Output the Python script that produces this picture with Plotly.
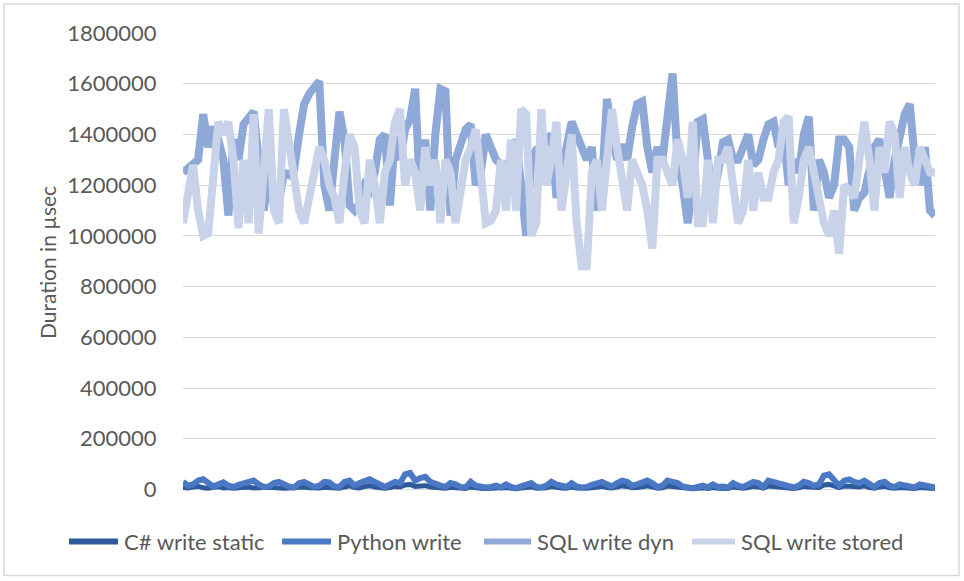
import plotly.graph_objects as go

# ---- data (values in µsec) ----
sql_dyn_k = [
    1250,1270,1280,1300,1480,1350,1430,1380,1300,1080,
    1380,1300,1440,1470,1490,1300,1100,1250,1120,1130,
    1250,1240,1260,1400,1520,1560,1580,1610,1200,1100,
    1300,1490,1380,1120,1100,1130,1200,1180,1250,1380,
    1400,1120,1390,1300,1420,1460,1580,1150,1380,1100,
    1400,1580,1570,1080,1300,1350,1420,1440,1200,1250,
    1400,1350,1300,1280,1280,1300,1380,1200,1000,1300,
    1340,1350,1380,1400,1150,1250,1380,1450,1400,1350,
    1300,1350,1100,1200,1540,1400,1300,1360,1300,1430,
    1520,1530,1350,1250,1350,1300,1450,1640,1300,1200,
    1050,1200,1450,1460,1300,1150,1250,1370,1380,1300,
    1300,1350,1400,1280,1300,1380,1440,1450,1350,1400,
    1200,1300,1250,1400,1470,1100,1300,1250,1150,1200,
    1380,1380,1350,1100,1150,1170,1250,1350,1380,1250,
    1150,1300,1400,1480,1520,1300,1200,1350,1100,1080,
]
sql_stored_k = [
    1050,1150,1280,1100,1000,1010,1250,1450,1400,1450,
    1300,1030,1300,1050,1480,1010,1250,1500,1100,1050,
    1500,1350,1200,1100,1050,1150,1250,1350,1300,1200,
    1150,1050,1250,1400,1350,1100,1050,1300,1200,1050,
    1250,1300,1450,1500,1200,1300,1250,1100,1350,1200,
    1300,1050,1300,1250,1050,1200,1300,1350,1420,1250,
    1050,1060,1100,1300,1100,1380,1100,1500,1480,1000,
    1050,1500,1200,1300,1450,1100,1250,1400,1050,880,
    880,1250,1300,1100,1300,1500,1350,1200,1100,1300,
    1250,1200,1100,950,1300,1300,1250,1200,1380,1300,
    1150,1450,1050,1050,1300,1050,1300,1300,1350,1200,
    1050,1100,1300,1100,1250,1150,1150,1250,1300,1450,
    1470,1050,1150,1300,1350,1250,1150,1050,1000,1100,
    930,1200,1180,1150,1300,1450,1300,1100,1350,1250,
    1450,1400,1150,1350,1250,1200,1350,1300,1250,1250,
]
python_k = [
    30,15,20,35,40,25,12,20,28,15,
    10,18,25,30,35,20,10,12,25,30,
    20,12,8,25,30,22,10,15,30,28,
    12,10,30,35,15,25,35,40,30,20,
    10,20,30,25,60,65,35,45,50,30,
    20,15,10,25,20,10,8,30,15,10,
    8,10,15,8,20,10,5,12,20,25,
    10,8,15,30,20,15,10,25,12,8,
    10,18,25,30,20,12,25,35,30,15,
    20,30,35,25,10,15,35,30,25,12,
    8,5,10,15,8,20,10,12,8,25,
    15,10,20,30,25,10,35,30,20,15,
    10,8,15,30,25,15,20,55,60,40,
    15,35,40,30,25,35,20,10,25,30,
    15,10,20,15,10,8,20,18,12,8,
]
csharp_k = [
    8,6,10,12,7,5,9,11,6,8,
    5,7,12,10,6,5,8,9,7,6,
    5,6,8,12,10,7,5,6,9,8,
    6,5,10,14,8,6,12,15,10,7,
    5,8,12,10,18,20,12,14,15,10,
    7,6,5,9,8,5,4,10,6,5,
    4,5,7,4,8,5,3,6,8,10,
    5,4,7,12,8,6,5,10,6,4,
    5,7,10,12,8,6,10,14,12,7,
    8,12,14,10,5,7,14,12,10,6,
    4,3,5,7,4,8,5,6,4,10,
    7,5,8,12,10,5,14,12,8,7,
    5,4,7,12,10,7,8,18,20,14,
    7,14,15,12,10,14,8,5,10,12,
    7,5,8,7,5,4,8,7,6,4,
]
series_names = ["C# write static", "Python write", "SQL write dyn", "SQL write stored"]
x_idx = list(range(1, len(sql_dyn_k) + 1))

colors = ["#2F5A9C", "#4A78C4", "#8EA9D8", "#C8D3E9"]
widths = [5, 6, 8, 8]
values = [csharp_k, python_k, sql_dyn_k, sql_stored_k]

fig = go.Figure()
for name, vals, color, w in zip(series_names, values, colors, widths):
    fig.add_trace(go.Scatter(
        x=x_idx, y=[v * 1000 for v in vals], mode="lines", name=name,
        line=dict(color=color, width=w), hoverinfo="skip", showlegend=False,
    ))

FONT = "Lato, 'Open Sans', sans-serif"
TXT = "#595959"
L, R, T = 183, 964 - 935, 33
plot_w = 752
plot_h = 459.5
B = 581 - T - plot_h

def px(xp):
    return (xp - L) / plot_w

def py(yp):
    return (T + plot_h - yp) / plot_h

# manual legend (one row, like the original)
leg_y = 542
leg_samples = [(66, 121), (279, 334), (481, 534), (689, 738)]
shapes = [dict(type="rect", xref="paper", yref="paper",
               x0=px(4), x1=px(959), y0=py(576), y1=py(4),
               line=dict(color="#D9D9D9", width=1.5), fillcolor="rgba(0,0,0,0)", layer="below")]
annotations = []
for (x0, x1), name, color in zip(leg_samples, series_names, colors):
    shapes.append(dict(type="line", xref="paper", yref="paper",
                       x0=px(x0 + 3), x1=px(x1 - 3), y0=py(leg_y), y1=py(leg_y),
                       line=dict(color=color, width=6)))
    annotations.append(dict(text=name, xref="paper", yref="paper", x=px(x1 + 1), y=py(leg_y),
                            xanchor="left", yanchor="middle", showarrow=False,
                            font=dict(family=FONT, size=22, color=TXT)))

fig.update_layout(
    width=964, height=581,
    margin=dict(l=L, r=R, t=T, b=B, pad=0),
    paper_bgcolor="white", plot_bgcolor="white",
    font=dict(family=FONT, color=TXT, size=22),
    showlegend=False,
    xaxis=dict(range=[1, len(x_idx)], showgrid=False, zeroline=False, showticklabels=False,
               showline=False, ticks=""),
    yaxis=dict(range=[-10000, 1800000], dtick=200000, tick0=0, tickformat="d",
               showgrid=True, gridcolor="#D9D9D9", gridwidth=1,
               zeroline=True, zerolinecolor="#D9D9D9", zerolinewidth=1,
               showline=False, ticks="outside", ticklen=21, tickcolor="rgba(0,0,0,0)",
               tickfont=dict(size=22, color=TXT),
               title=dict(text="Duration in µsec", font=dict(size=21, color=TXT), standoff=4)),
    shapes=shapes,
    annotations=annotations,
)

fig.write_html("out.html")
